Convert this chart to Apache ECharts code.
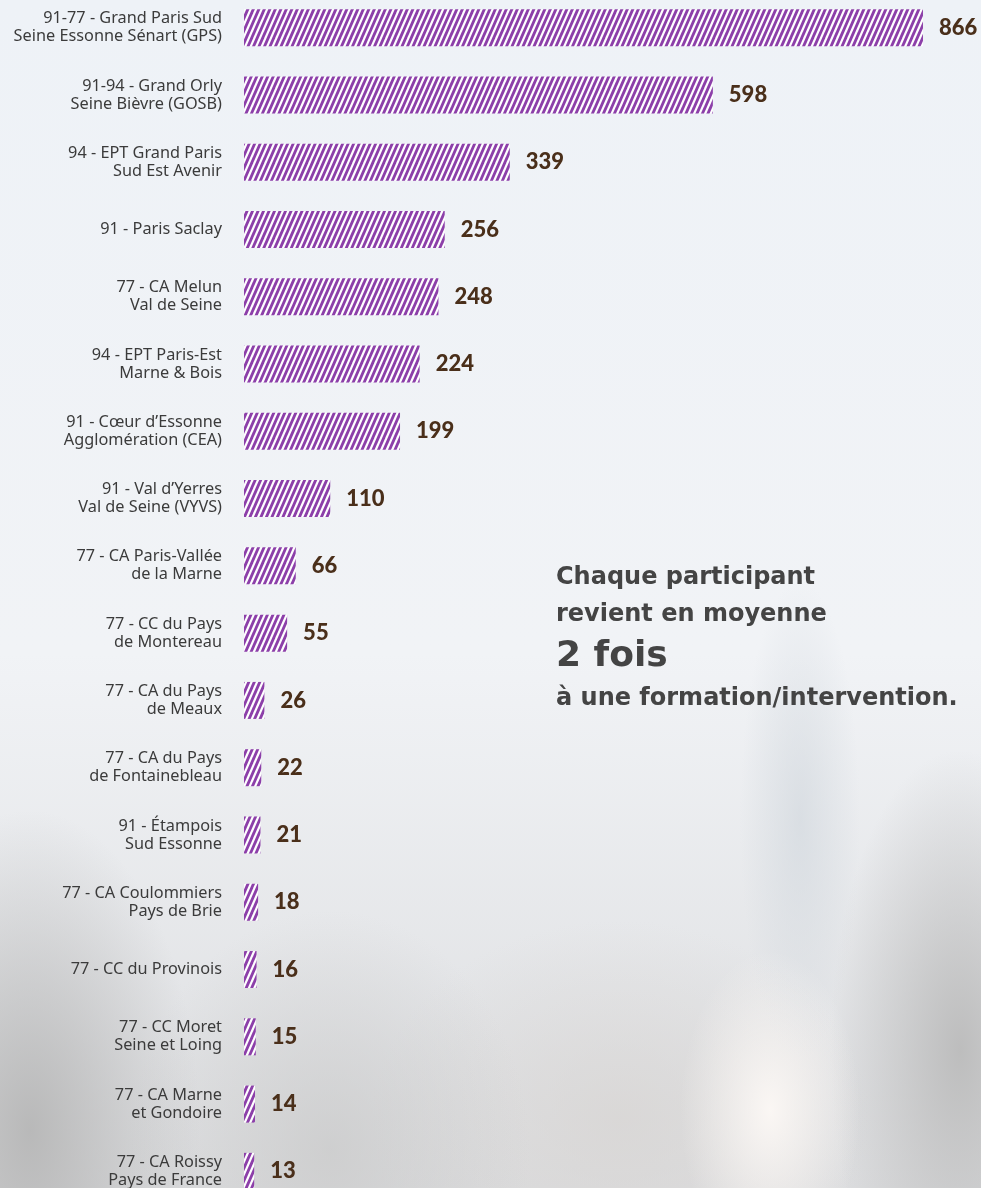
<!DOCTYPE html>
<html>
<head>
<meta charset="utf-8">
<script src="https://cdn.jsdelivr.net/npm/echarts@6/dist/echarts.min.js"></script>
<style>
html,body{margin:0;padding:0;width:981px;height:1188px;overflow:hidden;position:relative;}
body{
  background:
    radial-gradient(ellipse 90px 160px at 770px 1110px, rgba(252,248,245,0.95), rgba(252,248,245,0) 100%),
    radial-gradient(ellipse 130px 300px at 960px 1050px, rgba(185,185,185,0.9), rgba(185,185,185,0) 100%),
    radial-gradient(ellipse 60px 240px at 800px 820px, rgba(210,216,222,0.7), rgba(210,216,222,0) 100%),
    radial-gradient(ellipse 170px 320px at 30px 1130px, rgba(178,178,178,0.85), rgba(178,178,178,0) 100%),
    radial-gradient(ellipse 200px 240px at 330px 1150px, rgba(200,200,200,0.7), rgba(200,200,200,0) 100%),
    radial-gradient(ellipse 250px 200px at 620px 1120px, rgba(215,212,210,0.7), rgba(215,212,210,0) 100%),
    linear-gradient(180deg, #eef2f7 0%, #f1f3f6 55%, #dcdddf 100%);
}
#chart{position:absolute;left:0;top:-6px;width:981px;height:1211px;}
</style>
</head>
<body>
<div id="chart"></div>
<script>
const categories = [
  "91-77 - Grand Paris Sud\nSeine Essonne Sénart (GPS)",
  "91-94 - Grand Orly\nSeine Bièvre (GOSB)",
  "94 - EPT Grand Paris\nSud Est Avenir",
  "91 - Paris Saclay",
  "77 - CA Melun\nVal de Seine",
  "94 - EPT Paris-Est\nMarne & Bois",
  "91 - Cœur d’Essonne\nAgglomération (CEA)",
  "91 - Val d’Yerres\nVal de Seine (VYVS)",
  "77 - CA Paris-Vallée\nde la Marne",
  "77 - CC du Pays\nde Montereau",
  "77 - CA du Pays\nde Meaux",
  "77 - CA du Pays\nde Fontainebleau",
  "91 - Étampois\nSud Essonne",
  "77 - CA Coulommiers\nPays de Brie",
  "77 - CC du Provinois",
  "77 - CC Moret\nSeine et Loing",
  "77 - CA Marne\net Gondoire",
  "77 - CA Roissy\nPays de France"
];
const values = [866, 598, 339, 256, 248, 224, 199, 110, 66, 55, 26, 22, 21, 18, 16, 15, 14, 13];
const noteLines = [
  "Chaque participant",
  "revient en moyenne",
  "2 fois",
  "à une formation/intervention."
];

function makePattern() {
  const W = 11, H = 25, p = 5.5, w = 3.1, dx = 11;
  const c = document.createElement('canvas');
  c.width = W; c.height = H;
  const ctx = c.getContext('2d');
  ctx.fillStyle = '#ffffff';
  ctx.fillRect(0, 0, W, H);
  ctx.fillStyle = '#8c3fa9';
  for (let k = -8; k <= 8; k++) {
    const x0 = k * p;
    ctx.beginPath();
    ctx.moveTo(x0, H);
    ctx.lineTo(x0 + w, H);
    ctx.lineTo(x0 + w + dx, 0);
    ctx.lineTo(x0 + dx, 0);
    ctx.closePath();
    ctx.fill();
  }
  return c;
}

const chart = echarts.init(document.getElementById('chart'), null, {renderer: 'canvas'});
chart.setOption({
  backgroundColor: 'transparent',
  animation: false,
  grid: {left: 244, right: 0, top: 0, bottom: 0, containLabel: false},
  xAxis: {
    type: 'value', min: 0, max: 940, show: false
  },
  yAxis: {
    type: 'category', data: categories, inverse: true,
    axisLine: {show: false}, axisTick: {show: false}, splitLine: {show: false},
    axisLabel: {
      margin: 22, align: 'right',
      fontFamily: 'Noto Sans', fontSize: 16.3, color: '#3b3b3b', lineHeight: 18
    }
  },
  series: [{
    type: 'bar',
    data: values,
    barWidth: 37,
    itemStyle: {color: {image: makePattern(), repeat: 'repeat'}},
    label: {
      show: true, position: 'right', distance: 16,
      fontFamily: 'Lato', fontWeight: 900, fontSize: 22, color: '#4a2f1a'
    }
  }],
  graphic: [
    {type: 'text', left: 556, top: 572, style: {text: noteLines[0], font: 'bold 24px "DejaVu Sans"', fill: '#444444'}},
    {type: 'text', left: 556, top: 609, style: {text: noteLines[1], font: 'bold 24px "DejaVu Sans"', fill: '#444444'}},
    {type: 'text', left: 556, top: 645, style: {text: noteLines[2], font: 'bold 36px "DejaVu Sans"', fill: '#444444'}},
    {type: 'text', left: 556, top: 693, style: {text: noteLines[3], font: 'bold 24px "DejaVu Sans"', fill: '#444444'}}
  ]
});
</script>
</body>
</html>
